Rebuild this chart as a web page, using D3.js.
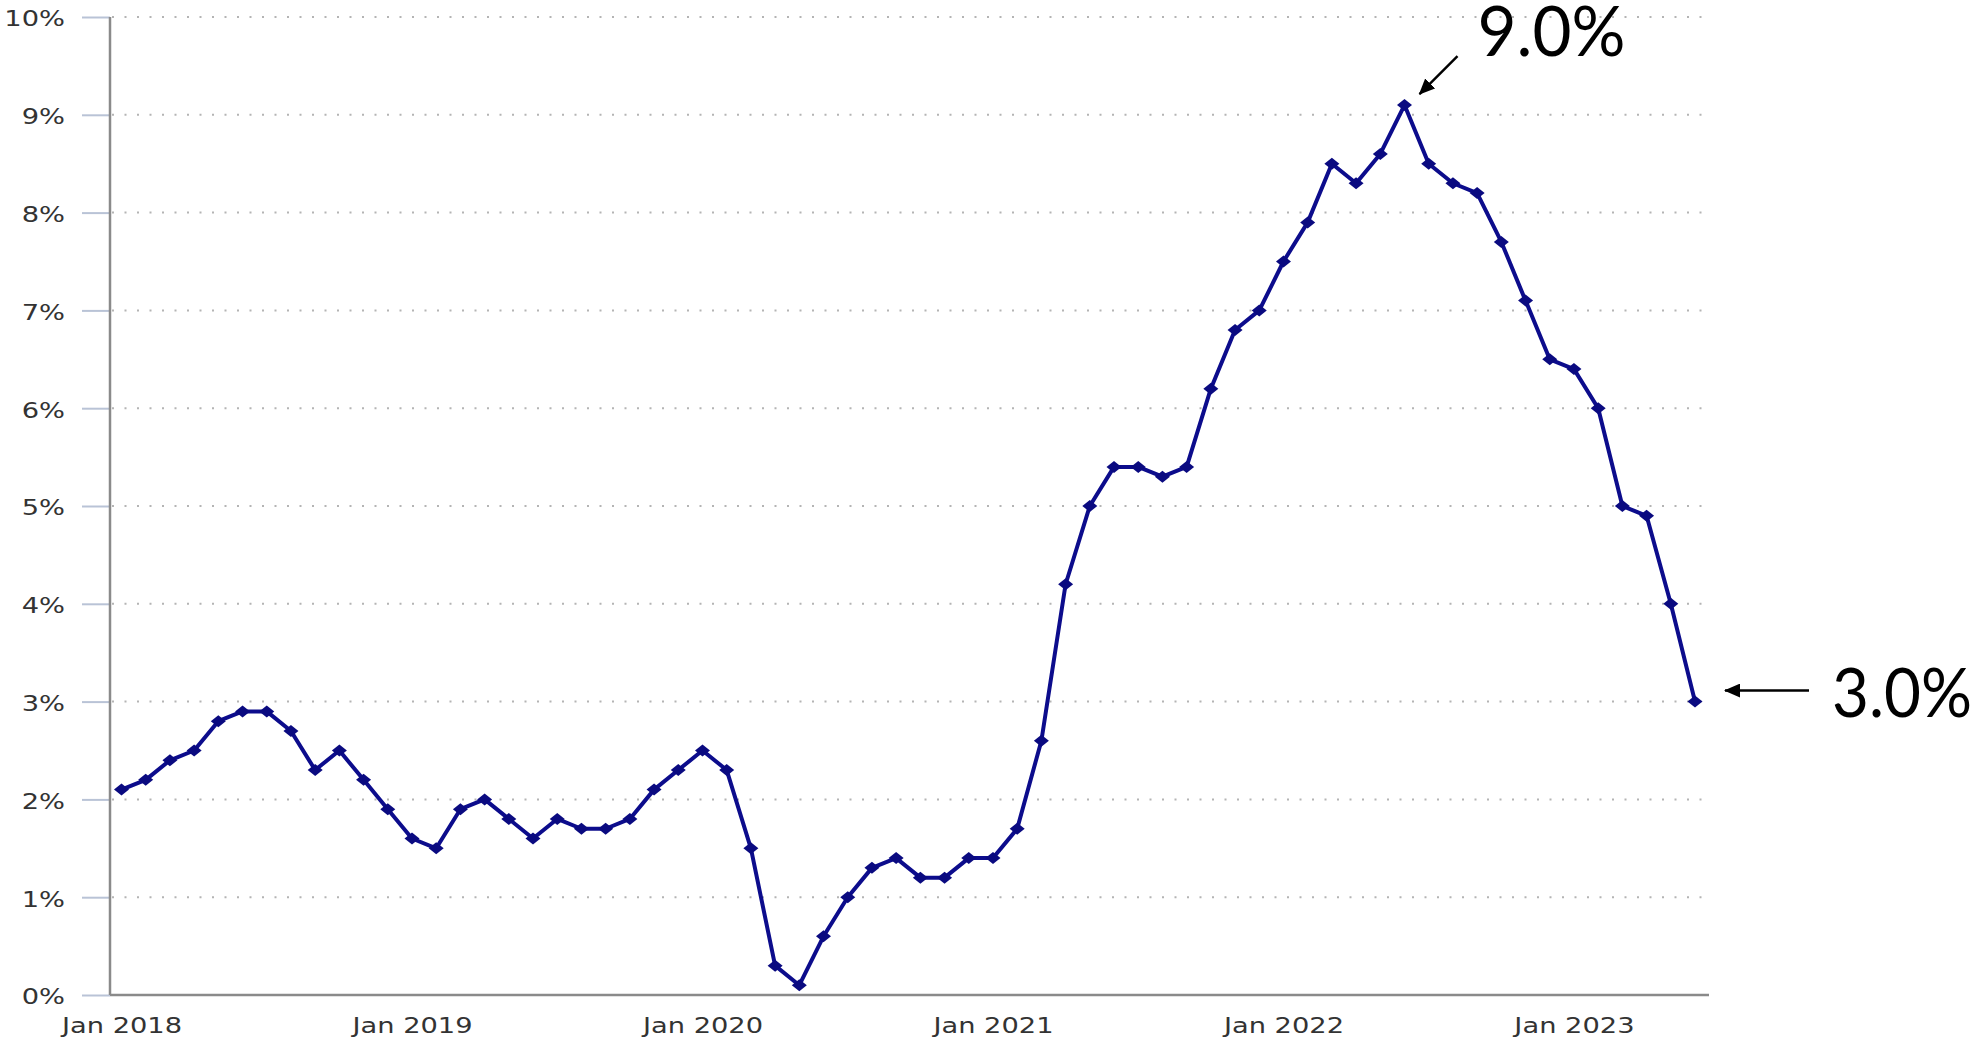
<!DOCTYPE html>
<html>
<head>
<meta charset="utf-8">
<script src="https://cdn.jsdelivr.net/npm/d3@7"></script>
<style>
    body { margin: 0; background: #fff; }
    svg { display: block; }
    .axis text { font-family: "DejaVu Sans", Verdana, sans-serif; font-size: 21px; fill: #333; }
    .note { font-family: Lato, "Open Sans", sans-serif; fill: #000; }
</style>
</head>
<body>
<div id="chart"></div>
<script>
const WIDTH = 1982
const HEIGHT = 1038
const TEXT_STRETCH = 1.3

// CPI year-over-year, monthly, Jan 2018 .. Jun 2023
const years = [2018, 2019, 2020, 2021, 2022, 2023]
const monthNames = ['Jan', 'Feb', 'Mar', 'Apr', 'May', 'Jun', 'Jul', 'Aug', 'Sep', 'Oct', 'Nov', 'Dec']
const values = [
    2.1, 2.2, 2.4, 2.5, 2.8, 2.9, 2.9, 2.7, 2.3, 2.5, 2.2, 1.9,
    1.6, 1.5, 1.9, 2.0, 1.8, 1.6, 1.8, 1.7, 1.7, 1.8, 2.1, 2.3,
    2.5, 2.3, 1.5, 0.3, 0.1, 0.6, 1.0, 1.3, 1.4, 1.2, 1.2, 1.4,
    1.4, 1.7, 2.6, 4.2, 5.0, 5.4, 5.4, 5.3, 5.4, 6.2, 6.8, 7.0,
    7.5, 7.9, 8.5, 8.3, 8.6, 9.1, 8.5, 8.3, 8.2, 7.7, 7.1, 6.5,
    6.4, 6.0, 5.0, 4.9, 4.0, 3.0
]
const yTicks = [0, 1, 2, 3, 4, 5, 6, 7, 8, 9, 10]
const xTickLabels = ['Jan 2018', 'Jan 2019', 'Jan 2020', 'Jan 2021', 'Jan 2022', 'Jan 2023']
const noteLabels = ['9.0%', '3.0%']
const noteMonths = ['Jun 2022', 'Jun 2023']

const months = []
years.forEach(yr => monthNames.forEach(m => months.push(`${m} ${yr}`)))
const data = values.map((v, i) => ({ month: months[i], value: v }))

const svg = d3.select('#chart')
    .append('svg')
    .attr('width', WIDTH)
    .attr('height', HEIGHT)

const plot = { left: 110, right: 1709, top: 17, bottom: 995 }

const x = d3.scalePoint()
    .domain(months.slice(0, values.length))
    .range([121.5, 1695])
const y = d3.scaleLinear().domain([0, 10]).range([plot.bottom, plot.top])

// dotted gridlines
svg.append('g')
    .selectAll('line')
    .data(yTicks.filter(d => d > 0))
    .enter()
    .append('line')
    .attr('x1', plot.left + 2)
    .attr('x2', plot.right)
    .attr('y1', d => y(d))
    .attr('y2', d => y(d))
    .attr('stroke', '#b4b4b4')
    .attr('stroke-width', 2)
    .attr('stroke-dasharray', '2 10.5')

// y axis
const yAxis = svg.append('g')
    .attr('class', 'axis')
    .attr('transform', `translate(${plot.left},0)`)
    .call(d3.axisLeft(y).tickValues(yTicks).tickSize(28).tickFormat(d => d + '%'))
yAxis.select('.domain').remove()
yAxis.selectAll('.tick line').attr('stroke', '#b9c3d6').attr('stroke-width', 2)
yAxis.selectAll('.tick text')
    .attr('x', null)
    .attr('dy', '0.42em')
    .attr('transform', `translate(-45,0) scale(${TEXT_STRETCH},1)`)

// x axis
const xAxis = svg.append('g')
    .attr('class', 'axis')
    .attr('transform', `translate(0,${plot.bottom})`)
    .call(d3.axisBottom(x).tickValues(xTickLabels).tickSize(0))
xAxis.select('.domain').remove()
xAxis.selectAll('.tick text')
    .attr('y', 38)
    .attr('dy', null)
    .attr('transform', `scale(${TEXT_STRETCH},1)`)

// axis lines
svg.append('line')
    .attr('x1', plot.left).attr('x2', plot.left)
    .attr('y1', plot.top).attr('y2', plot.bottom)
    .attr('stroke', '#8a8a8a').attr('stroke-width', 2.5)
svg.append('line')
    .attr('x1', plot.left).attr('x2', plot.right)
    .attr('y1', plot.bottom).attr('y2', plot.bottom)
    .attr('stroke', '#8a8a8a').attr('stroke-width', 2.5)

// series
const line = d3.line()
    .x(d => x(d.month))
    .y(d => y(d.value))

svg.append('path')
    .datum(data)
    .attr('fill', 'none')
    .attr('stroke', '#0c0c8c')
    .attr('stroke-width', 4)
    .attr('stroke-linejoin', 'round')
    .attr('d', line)

svg.append('g')
    .selectAll('path')
    .data(data)
    .enter()
    .append('path')
    .attr('transform', d => `translate(${x(d.month)},${y(d.value)})`)
    .attr('d', 'M-7.5,0L0,-6L7.5,0L0,6Z')
    .attr('fill', '#0a0a80')

// annotations
const defs = svg.append('defs')
defs.append('marker')
    .attr('id', 'arrow-head')
    .attr('markerUnits', 'userSpaceOnUse')
    .attr('viewBox', '0 0 16 14')
    .attr('refX', 15)
    .attr('refY', 7)
    .attr('markerWidth', 16)
    .attr('markerHeight', 14)
    .attr('orient', 'auto')
    .append('path')
    .attr('d', 'M0,0L16,7L0,14Z')
    .attr('fill', '#000')

const peak = { x: x(noteMonths[0]), y: y(data.find(d => d.month === noteMonths[0]).value) }
svg.append('line')
    .attr('x1', peak.x + 53).attr('y1', peak.y - 49)
    .attr('x2', peak.x + 15).attr('y2', peak.y - 11)
    .attr('stroke', '#000').attr('stroke-width', 2.5)
    .attr('marker-end', 'url(#arrow-head)')
svg.append('text')
    .attr('class', 'note')
    .attr('x', peak.x + 73)
    .attr('y', peak.y - 49)
    .attr('font-size', 70)
    .attr('textLength', 148)
    .attr('lengthAdjust', 'spacingAndGlyphs')
    .text(noteLabels[0])

const last = { x: x(noteMonths[1]), y: y(data.find(d => d.month === noteMonths[1]).value) }
svg.append('line')
    .attr('x1', last.x + 114).attr('y1', last.y - 11)
    .attr('x2', last.x + 30).attr('y2', last.y - 11)
    .attr('stroke', '#000').attr('stroke-width', 2.5)
    .attr('marker-end', 'url(#arrow-head)')
svg.append('text')
    .attr('class', 'note')
    .attr('x', last.x + 137)
    .attr('y', last.y + 15)
    .attr('font-size', 68)
    .attr('textLength', 140)
    .attr('lengthAdjust', 'spacingAndGlyphs')
    .text(noteLabels[1])
</script>
</body>
</html>
